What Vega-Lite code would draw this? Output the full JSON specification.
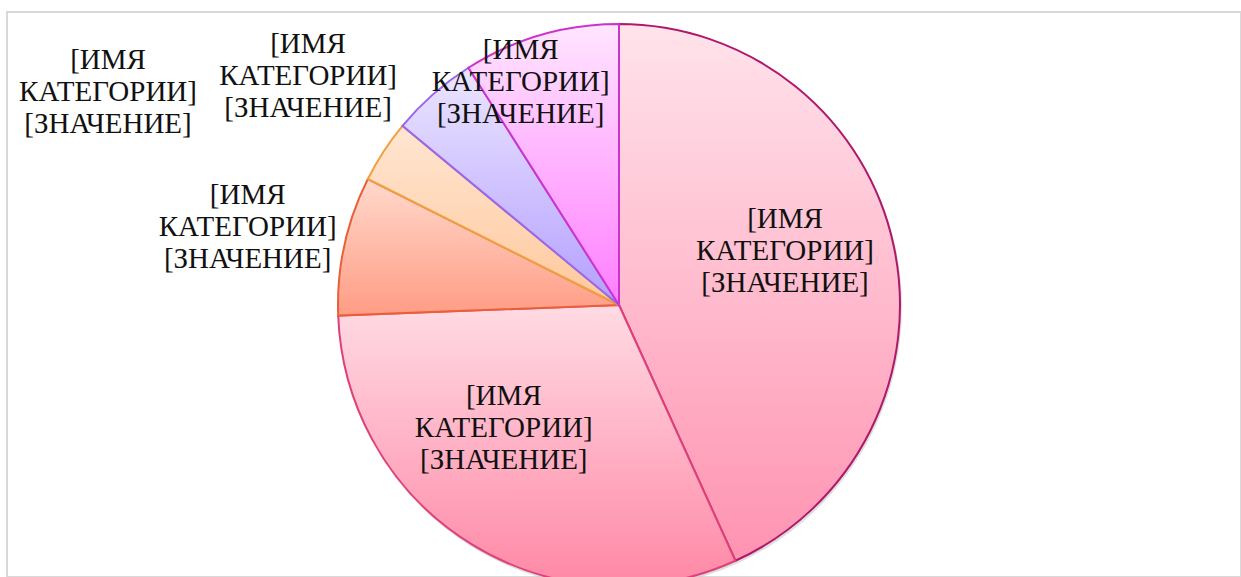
{
  "$schema": "https://vega.github.io/schema/vega-lite/v6.json",
  "width": 1234,
  "height": 565,
  "autosize": {"type": "none"},
  "padding": {"left": 7, "top": 12, "right": 0, "bottom": 0},
  "background": "#ffffff",
  "view": {"stroke": "#d9d9d9", "strokeWidth": 2},
  "data": {
    "values": [
      {"id": 1, "category": "[ИМЯ КАТЕГОРИИ]", "value": 43.2, "label": "[ИМЯ\nКАТЕГОРИИ]\n[ЗНАЧЕНИЕ]"},
      {"id": 2, "category": "[ИМЯ КАТЕГОРИИ]", "value": 31.2, "label": "[ИМЯ\nКАТЕГОРИИ]\n[ЗНАЧЕНИЕ]"},
      {"id": 3, "category": "[ИМЯ КАТЕГОРИИ]", "value": 8.0, "label": "[ИМЯ\nКАТЕГОРИИ]\n[ЗНАЧЕНИЕ]"},
      {"id": 4, "category": "[ИМЯ КАТЕГОРИИ]", "value": 3.6, "label": "[ИМЯ\nКАТЕГОРИИ]\n[ЗНАЧЕНИЕ]"},
      {"id": 5, "category": "[ИМЯ КАТЕГОРИИ]", "value": 5.0, "label": "[ИМЯ\nКАТЕГОРИИ]\n[ЗНАЧЕНИЕ]"},
      {"id": 6, "category": "[ИМЯ КАТЕГОРИИ]", "value": 9.0, "label": "[ИМЯ\nКАТЕГОРИИ]\n[ЗНАЧЕНИЕ]"}
    ]
  },
  "encoding": {
    "theta": {"field": "value", "type": "quantitative", "stack": true},
    "order": {"field": "id", "type": "quantitative", "sort": "ascending"}
  },
  "layer": [
    {
      "mark": {"type": "arc", "radius": 282, "x": {"expr": "width/2 - 4"}, "y": {"expr": "height/2 + 12.5"}, "fill": "#c8c8c8", "opacity": 0.6, "strokeWidth": 0}
    },
    {
      "mark": {"type": "arc", "radius": 281, "x": {"expr": "width/2 - 5"}, "y": {"expr": "height/2 + 10.5"}, "strokeWidth": 2},
      "encoding": {
        "fill": {
          "condition": [
            {"test": "datum.id == 1", "value": {"gradient": "linear", "x1": 0, "y1": 0, "x2": 0, "y2": 1, "stops": [{"offset": 0, "color": "#ffe3eb"}, {"offset": 1, "color": "#ff93b1"}]}},
            {"test": "datum.id == 2", "value": {"gradient": "linear", "x1": 0, "y1": 0, "x2": 0, "y2": 1, "stops": [{"offset": 0, "color": "#ffdbe4"}, {"offset": 1, "color": "#ff88a6"}]}},
            {"test": "datum.id == 3", "value": {"gradient": "linear", "x1": 0, "y1": 0, "x2": 0, "y2": 1, "stops": [{"offset": 0, "color": "#ffd9cc"}, {"offset": 1, "color": "#ff9c84"}]}},
            {"test": "datum.id == 4", "value": {"gradient": "linear", "x1": 0, "y1": 0, "x2": 0, "y2": 1, "stops": [{"offset": 0, "color": "#ffe6d2"}, {"offset": 1, "color": "#ffc89c"}]}},
            {"test": "datum.id == 5", "value": {"gradient": "linear", "x1": 0, "y1": 0, "x2": 0, "y2": 1, "stops": [{"offset": 0, "color": "#ece6ff"}, {"offset": 1, "color": "#b39fff"}]}}
          ],
          "value": {"gradient": "linear", "x1": 0, "y1": 0, "x2": 0, "y2": 1, "stops": [{"offset": 0, "color": "#ffe6ff"}, {"offset": 1, "color": "#ff7eff"}]}
        },
        "stroke": {
          "field": "id",
          "type": "nominal",
          "scale": {"domain": [1, 2, 3, 4, 5, 6], "range": ["#b0186a", "#e0407a", "#e8603a", "#f0a040", "#9966ee", "#cc33cc"]},
          "legend": null
        }
      }
    },
    {
      "mark": {
        "type": "text",
        "font": "Liberation Serif",
        "fontSize": 29,
        "lineHeight": 32,
        "lineBreak": "\n",
        "align": "center",
        "baseline": "middle",
        "color": "#111111",
        "x": {"expr": "width/2 - 5"},
        "y": {"expr": "height/2 + 10.5"},
        "radius": {"expr": "[0, 175, 168, 380, 554, 387, 245][datum.id]"},
        "dx": {"expr": "[0, -5, -27, 0, -47, -55, -30][datum.id]"},
        "dy": {"expr": "[0, -49, -52, -29.5, 58, 29, -20][datum.id]"}
      },
      "encoding": {
        "text": {"field": "label", "type": "nominal"}
      }
    }
  ]
}
